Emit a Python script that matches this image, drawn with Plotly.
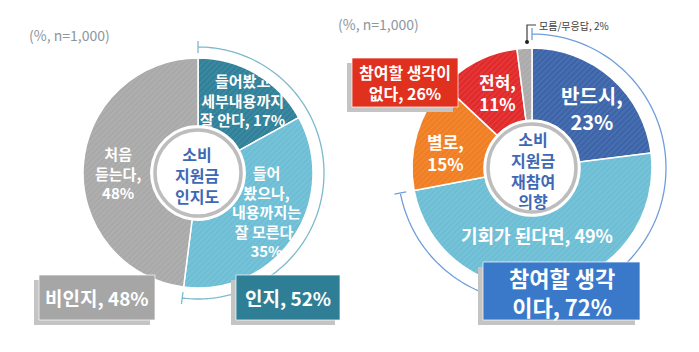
import math
import plotly.graph_objects as go

W, H = 699, 352
FONT = "Noto Sans CJK KR"

# ---- data ----
aware_labels = ["들어봤고 세부내용까지 잘 안다", "들어 봤으나, 내용까지는 잘 모른다", "처음 듣는다"]
aware_values = [17, 35, 48]
aware_colors = ["#2F8099", "#6DBED5", "#A9A9A9"]
aware_text = ["들어봤고<br>세부내용까지<br>잘 안다, 17%",
              "들어<br>봤으나,<br>내용까지는<br>잘 모른다,<br>35%",
              "처음<br>듣는다,<br>48%"]
aware_groups = ["비인지, 48%", "인지, 52%"]
aware_known_share = 52

rej_labels = ["반드시", "기회가 된다면", "별로", "전혀", "모름/무응답"]
rej_values = [23, 49, 15, 11, 2]
rej_colors = ["#3C64A9", "#6DBED5", "#F07E22", "#E1292A", "#ABABAB"]
rej_text = ["반드시,<br>23%", "기회가 된다면, 49%", "별로,<br>15%", "전혀,<br>11%", "모름/무응답, 2%"]
rej_groups = ["참여할 생각이<br>없다, 26%", "참여할 생각<br>이다, 72%"]
rej_yes_share = 72

center_left = "소비<br>지원금<br>인지도"
center_right = "소비<br>지원금<br>재참여<br>의향"
note = "(%, n=1,000)"


def X(px):
    return px / W


def Y(py):
    return 1 - py / H


# geometry (pixels)
LC, LR = (198, 173), 115
RC, RR = (532, 168), 120

fig = go.Figure()


def pie(values, colors, names, c, r, hole):
    fig.add_trace(go.Pie(
        values=values, labels=names, sort=False, direction="clockwise", rotation=0,
        hole=hole, textinfo="none", hoverinfo="label+percent", showlegend=False,
        marker=dict(colors=colors, line=dict(color="white", width=1.5),
                    pattern=dict(shape="/", fgcolor="rgba(255,255,255,0.2)", size=4, solidity=0.3,
                                 fillmode="overlay")),
        domain=dict(x=[X(c[0] - r), X(c[0] + r)], y=[Y(c[1] + r), Y(c[1] - r)]),
    ))


pie(aware_values, aware_colors, aware_labels, LC, LR, 0.41)
pie(rej_values, rej_colors, rej_labels, RC, RR, 0.40)

shapes = []
annotations = []


def ring(c, r, color):
    shapes.append(dict(type="circle", xref="paper", yref="paper",
                       x0=X(c[0] - r), x1=X(c[0] + r), y0=Y(c[1] + r), y1=Y(c[1] - r),
                       fillcolor="white", line=dict(color=color, width=3.5), layer="above"))


ring(LC, 43, "#BDBDBD")
ring(RC, 44, "#BDBDBD")


def arc(c, r, frac, color, tick=6):
    pts = []
    n = 120
    end = frac / 100 * 2 * math.pi
    for i in range(n + 1):
        a = end * i / n
        pts.append((c[0] + r * math.sin(a), c[1] - r * math.cos(a)))
    path = "M " + " L ".join(f"{X(px):.5f},{Y(py):.5f}" for px, py in pts)
    for a in (0, end):
        p1 = (c[0] + (r - tick) * math.sin(a), c[1] - (r - tick) * math.cos(a))
        p2 = (c[0] + (r + tick) * math.sin(a), c[1] - (r + tick) * math.cos(a))
        path += f" M {X(p1[0]):.5f},{Y(p1[1]):.5f} L {X(p2[0]):.5f},{Y(p2[1]):.5f}"
    shapes.append(dict(type="path", xref="paper", yref="paper", path=path,
                       line=dict(color=color, width=1.3), layer="below"))


arc(LC, 126, aware_known_share, "#7DB9CC")
arc(RC, 134, rej_yes_share, "#6F9EDC")


def box(x0, y0, x1, y1, fill, text, size):
    shapes.append(dict(type="rect", xref="paper", yref="paper",
                       x0=X(x0 - 5), x1=X(x1 - 5), y0=Y(y1 + 5), y1=Y(y0 + 5),
                       fillcolor="#C4C4C4", line=dict(width=0), layer="above"))
    shapes.append(dict(type="rect", xref="paper", yref="paper",
                       x0=X(x0), x1=X(x1), y0=Y(y1), y1=Y(y0),
                       fillcolor=fill, line=dict(color="rgba(255,255,255,0.7)", width=1), layer="above"))
    annotations.append(dict(x=X((x0 + x1) / 2), y=Y((y0 + y1) / 2), xref="paper", yref="paper",
                            text=text, showarrow=False, align="center",
                            xanchor="center", yanchor="middle",
                            font=dict(family=FONT, size=size, color="white", weight="bold")))


box(39, 275, 155, 320, "#A6A6A6", aware_groups[0], 19)
box(236, 275, 340, 320, "#2E7F96", aware_groups[1], 19)
box(352, 58, 458, 107, "#E0301E", rej_groups[0], 16)
box(483, 262, 640, 320, "#3A79CA", rej_groups[1], 22)


def label(px, py, text, size, color="white", weight="bold", align="center", xanchor="center"):
    annotations.append(dict(x=X(px), y=Y(py), xref="paper", yref="paper", text=text,
                            showarrow=False, align=align, xanchor=xanchor, yanchor="middle",
                            font=dict(family=FONT, size=size, color=color, weight=weight)))


label(243, 100, aware_text[0], 15)
label(266, 211, aware_text[1], 15)
label(118, 173, aware_text[2], 15)
label(197, 175, center_left, 16, color="#3E68B4")

label(592, 108, rej_text[0], 20)
label(537, 235, rej_text[1], 18)
label(445, 152, rej_text[2], 17)
label(497, 92, rej_text[3], 17)
label(533, 170, center_right, 16, color="#3E68B4")

# small "don't know" callout
annotations.append(dict(x=X(537), y=Y(25), xref="paper", yref="paper", text=rej_text[4],
                        showarrow=False, xanchor="left", yanchor="middle",
                        font=dict(family=FONT, size=10, color="#404040")))
shapes.append(dict(type="path", xref="paper", yref="paper",
                   path=f"M {X(527)},{Y(42)} L {X(527)},{Y(25)} L {X(536)},{Y(25)}",
                   line=dict(color="#404040", width=1.2), layer="above"))
shapes.append(dict(type="circle", xref="paper", yref="paper",
                   x0=X(525), x1=X(529), y0=Y(44), y1=Y(40),
                   fillcolor="#202020", line=dict(width=0), layer="above"))

label(27, 35, note, 14, color="#8C96A0", weight="normal", xanchor="left")
label(336, 24, note, 14, color="#8C96A0", weight="normal", xanchor="left")

fig.update_layout(width=W, height=H, margin=dict(l=0, r=0, t=0, b=0),
                  paper_bgcolor="white", plot_bgcolor="white",
                  shapes=shapes, annotations=annotations)
fig.write_html("out.html")
